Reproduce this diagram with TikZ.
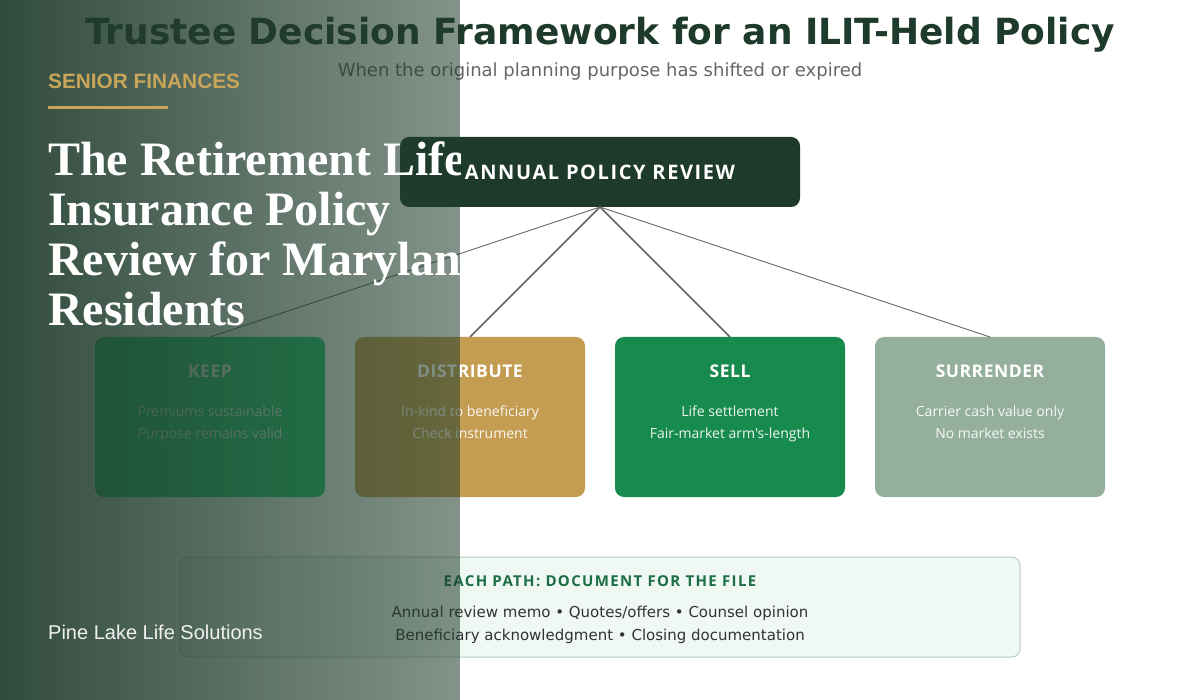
\documentclass[tikz,border=0pt]{standalone}
\usepackage{fontspec}
\setmainfont{DejaVu Sans}
\newfontfamily\cardfont{Open Sans}
\newfontfamily\cardfontwide[LetterSpace=8]{Open Sans}
\newfontfamily\notefontwide[LetterSpace=9]{Open Sans}
\newfontfamily\cardfontsp[LetterSpace=3]{Open Sans}
\newfontfamily\brandfont{Liberation Sans}
\newfontfamily\headfont{Liberation Serif}
\usetikzlibrary{positioning,fadings}

\definecolor{forest}{HTML}{1E3A2B}
\definecolor{subgray}{HTML}{666666}
\definecolor{linkgray}{HTML}{666666}
\definecolor{keepgreen}{HTML}{28CD78}
\definecolor{distgold}{HTML}{C59D52}
\definecolor{sellgreen}{HTML}{178A4E}
\definecolor{sage}{HTML}{94B09C}
\definecolor{notefill}{HTML}{EFF8F3}
\definecolor{notegray}{HTML}{B8CCC0}
\definecolor{notegreen}{HTML}{1C6E45}
\definecolor{notetext}{HTML}{333333}
\definecolor{shadegreen}{HTML}{1F3C2C}
\definecolor{brandgold}{HTML}{C9A55A}

\tikzfading[name=leftfade, left color=transparent!8, right color=transparent!45]

\begin{document}
\begin{tikzpicture}[x=1pt, y=-1pt,
	card/.style={rounded corners=9pt, minimum width=230pt, minimum height=160pt, inner sep=0pt, outer sep=0pt},
	cardhead/.style={anchor=base, font=\cardfontsp\bfseries\fontsize{17.5}{20}\selectfont, text=white},
	cardline/.style={anchor=base, font=\cardfont\fontsize{14}{16}\selectfont, text=white, text opacity=0.92},
	link/.style={draw=linkgray, line width=1.6pt},
	farlink/.style={draw=linkgray, line width=0.8pt},
	sidetext/.style={anchor=base west, inner sep=0pt, text=white}]

	\useasboundingbox (0,0) rectangle (1200,700);
	\fill[white] (0,0) rectangle (1200,700);

	% heading
	\node[anchor=base, font=\bfseries\fontsize{36}{40}\selectfont, text=forest] (title) at (600,45) {Trustee Decision Framework for an ILIT-Held Policy};
	\node[anchor=base, font=\fontsize{18}{22}\selectfont, text=subgray] (subtitle) at (600,77) {When the original planning purpose has shifted or expired};

	% review and the four paths
	\node[fill=forest, rounded corners=9pt, minimum width=400pt, minimum height=70pt, outer sep=0pt,
		text=white, font=\cardfontwide\bfseries\fontsize{20}{24}\selectfont] (review) at (600,172) {ANNUAL POLICY REVIEW};

	\node[card, fill=keepgreen] (keep) at (210,417) {};
	\node[card, fill=distgold, right=30pt of keep] (distribute) {};
	\node[card, fill=sellgreen, right=30pt of distribute] (sell) {};
	\node[card, fill=sage, right=30pt of sell] (surrender) {};

	\draw[farlink] (review.south) -- (keep.north);
	\draw[link] (review.south) -- (distribute.north);
	\draw[link] (review.south) -- (sell.north);
	\draw[farlink] (review.south) -- (surrender.north);

	\node[cardhead] (keephead) at (210,378) {KEEP};
	\node[cardline] (keepa) at (210,416.5) {Premiums sustainable};
	\node[cardline] (keepb) at (210,438.5) {Purpose remains valid};

	\node[cardhead] (disthead) at (470,378) {DISTRIBUTE};
	\node[cardline] (dista) at (470,416.5) {In-kind to beneficiary};
	\node[cardline] (distb) at (470,438.5) {Check instrument};

	\node[cardhead] (sellhead) at (730,378) {SELL};
	\node[cardline] (sella) at (730,416.5) {Life settlement};
	\node[cardline] (sellb) at (730,438.5) {Fair-market arm's-length};

	\node[cardhead] (surrhead) at (990,378) {SURRENDER};
	\node[cardline] (surra) at (990,416.5) {Carrier cash value only};
	\node[cardline] (surrb) at (990,438.5) {No market exists};

	% file note
	\node[draw=notegray, line width=1pt, fill=notefill, rounded corners=8pt, minimum width=840pt, minimum height=100pt] (note) at (600,607) {};
	\node[anchor=base, font=\notefontwide\bfseries\fontsize{15}{17}\selectfont, text=notegreen] (notehead) at (600,586) {EACH PATH: DOCUMENT FOR THE FILE};
	\node[anchor=base, font=\fontsize{15}{17}\selectfont, text=notetext] (notea) at (600,617) {Annual review memo • Quotes/offers • Counsel opinion};
	\node[anchor=base, font=\fontsize{15}{17}\selectfont, text=notetext] (noteb) at (600,640.5) {Beneficiary acknowledgment • Closing documentation};

	% left panel
	\fill[shadegreen, path fading=leftfade] (0,0) rectangle (460,700);
	\begin{scope}
		\clip (0,0) rectangle (460,700);
		\node[sidetext, text=brandgold, font=\brandfont\bfseries\fontsize{20.8}{24}\selectfont] (brand) at (48,89) {SENIOR FINANCES};
		\draw[brandgold, line width=3pt] (48,108) -- (168,108);
		\node[sidetext, font=\headfont\bfseries\fontsize{48}{50}\selectfont] (headA) at (48,176) {The Retirement Life};
		\node[sidetext, font=\headfont\bfseries\fontsize{48}{50}\selectfont] (headB) at (48,226) {Insurance Policy};
		\node[sidetext, font=\headfont\bfseries\fontsize{48}{50}\selectfont] (headC) at (48,276) {Review for Maryland};
		\node[sidetext, font=\headfont\bfseries\fontsize{48}{50}\selectfont] (headD) at (48,326) {Residents};
		\node[sidetext, text=white!94!black, font=\brandfont\fontsize{20}{24}\selectfont] (firm) at (48,639) {Pine Lake Life Solutions};
	\end{scope}
\end{tikzpicture}
\end{document}
